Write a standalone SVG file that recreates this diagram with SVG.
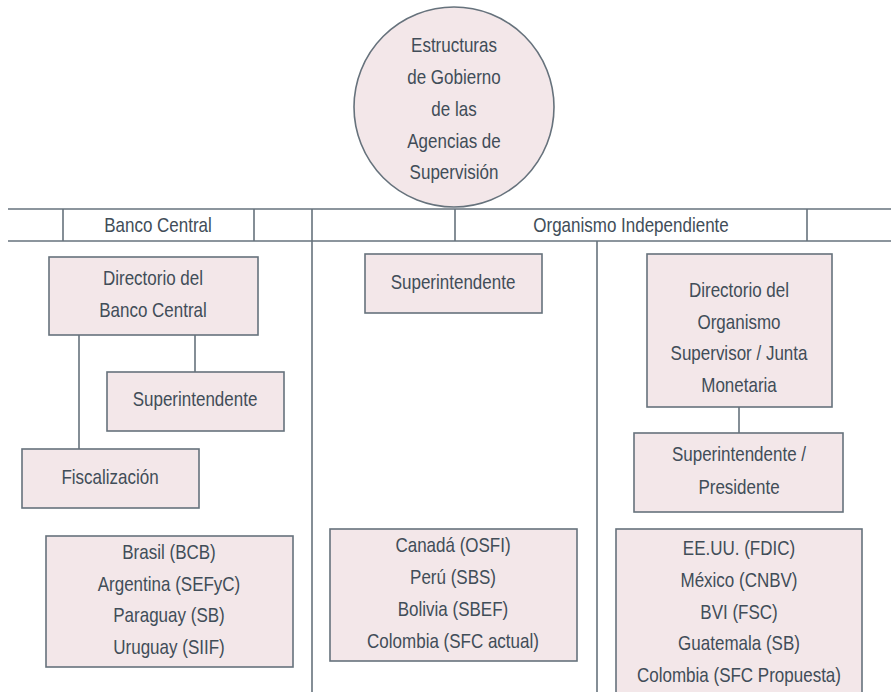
<svg xmlns="http://www.w3.org/2000/svg" width="891" height="692" viewBox="0 0 891 692">
<style>
.box{fill:#f3e7e9;stroke:#66727c;stroke-width:1.6}
.ln{fill:none;stroke:#66727c;stroke-width:1.6}
text{font-family:"Liberation Sans",Arial,sans-serif;font-size:20px;fill:#414d58;text-anchor:middle;dominant-baseline:central}
</style>
<rect width="891" height="692" fill="#ffffff"/>
<g id="connectors">
<line class="ln" x1="8" y1="209" x2="891" y2="209"/>
<line class="ln" x1="8" y1="241" x2="891" y2="241"/>
<line class="ln" x1="63" y1="209" x2="63" y2="241"/>
<line class="ln" x1="254" y1="209" x2="254" y2="241"/>
<line class="ln" x1="312" y1="209" x2="312" y2="692"/>
<line class="ln" x1="455" y1="209" x2="455" y2="241"/>
<line class="ln" x1="807" y1="209" x2="807" y2="241"/>
<line class="ln" x1="597" y1="241" x2="597" y2="692"/>
<line class="ln" x1="195" y1="335" x2="195" y2="372"/>
<line class="ln" x1="79" y1="335" x2="79" y2="449"/>
<line class="ln" x1="739" y1="407" x2="739" y2="433"/>
</g>
<g id="root">
<ellipse class="box" cx="454" cy="107" rx="100" ry="100"/>
<g transform="translate(454 0) scale(.85 1)">
<text x="0" y="45">Estructuras</text>
<text x="0" y="77">de Gobierno</text>
<text x="0" y="109">de las</text>
<text x="0" y="141">Agencias de</text>
<text x="0" y="172">Supervisión</text>
</g>
</g>
<g id="hdr-banco"><text transform="translate(158 0) scale(.85 1)" x="0" y="225">Banco Central</text></g>
<g id="hdr-organismo"><text transform="translate(631 0) scale(.85 1)" x="0" y="225">Organismo Independiente</text></g>
<g id="dir-bc">
<rect class="box" x="49" y="257" width="209" height="78"/>
<g transform="translate(153 0) scale(.85 1)">
<text x="0" y="278">Directorio del</text>
<text x="0" y="310">Banco Central</text>
</g>
</g>
<g id="sup-bc">
<rect class="box" x="107" y="372" width="177" height="59"/>
<text transform="translate(195 0) scale(.85 1)" x="0" y="399">Superintendente</text>
</g>
<g id="fisc">
<rect class="box" x="22" y="449" width="177" height="59"/>
<text transform="translate(110 0) scale(.85 1)" x="0" y="477">Fiscalización</text>
</g>
<g id="list-bc">
<rect class="box" x="46" y="536" width="247" height="131"/>
<g transform="translate(169 0) scale(.85 1)">
<text x="0" y="552">Brasil (BCB)</text>
<text x="0" y="584">Argentina (SEFyC)</text>
<text x="0" y="615">Paraguay (SB)</text>
<text x="0" y="647">Uruguay (SIIF)</text>
</g>
</g>
<g id="sup-mid">
<rect class="box" x="365" y="254" width="177" height="59"/>
<text transform="translate(453 0) scale(.85 1)" x="0" y="282">Superintendente</text>
</g>
<g id="list-mid">
<rect class="box" x="330" y="529" width="247" height="132"/>
<g transform="translate(453 0) scale(.85 1)">
<text x="0" y="545">Canadá (OSFI)</text>
<text x="0" y="577">Perú (SBS)</text>
<text x="0" y="609">Bolivia (SBEF)</text>
<text x="0" y="641">Colombia (SFC actual)</text>
</g>
</g>
<g id="dir-org">
<rect class="box" x="647" y="254" width="185" height="153"/>
<g transform="translate(739 0) scale(.85 1)">
<text x="0" y="290">Directorio del</text>
<text x="0" y="322">Organismo</text>
<text x="0" y="353">Supervisor / Junta</text>
<text x="0" y="385">Monetaria</text>
</g>
</g>
<g id="sup-pres">
<rect class="box" x="634" y="433" width="209" height="79"/>
<g transform="translate(739 0) scale(.85 1)">
<text x="0" y="454">Superintendente /</text>
<text x="0" y="487">Presidente</text>
</g>
</g>
<g id="list-org">
<rect class="box" x="616" y="529" width="246" height="168"/>
<g transform="translate(739 0) scale(.85 1)">
<text x="0" y="548">EE.UU. (FDIC)</text>
<text x="0" y="580">México (CNBV)</text>
<text x="0" y="612">BVI (FSC)</text>
<text x="0" y="643">Guatemala (SB)</text>
<text x="0" y="675">Colombia (SFC Propuesta)</text>
</g>
</g>
</svg>
